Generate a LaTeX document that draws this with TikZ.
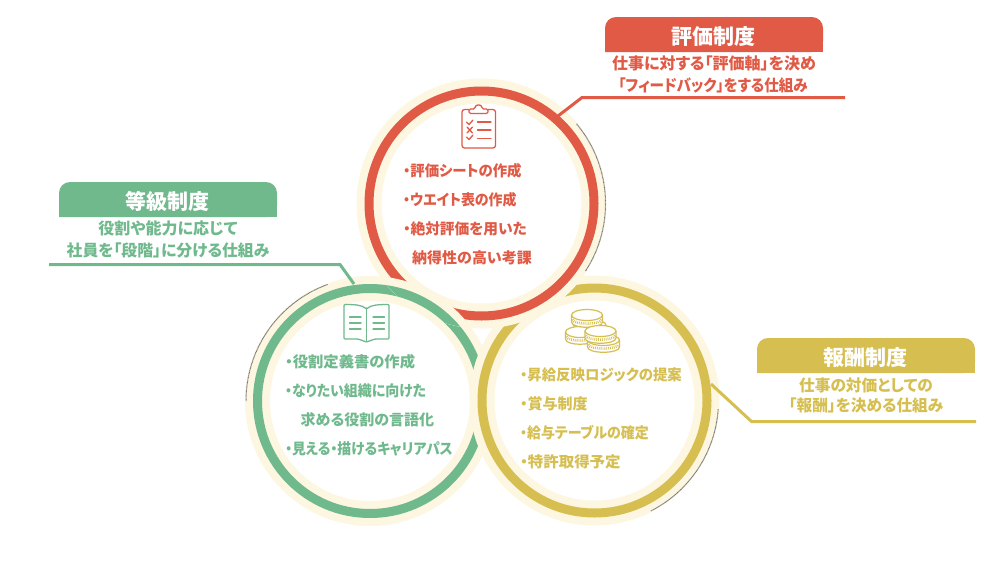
\documentclass[tikz,border=0pt]{standalone}
\usepackage{fontspec}
\usepackage{graphicx}
\setmainfont{Noto Sans CJK JP}[RawFeature={+palt}]
\definecolor{redc}{HTML}{E05A45}
\definecolor{greenc}{HTML}{6FB98D}
\definecolor{yellowc}{HTML}{D6BF50}
\definecolor{creamc}{HTML}{FDF6E1}
\definecolor{greyc}{HTML}{777777}
\newcommand{\disc}[2]{%
  \fill[creamc] (#1) circle[radius=125pt];
  \fill[white] (#1) circle[radius=100pt];
  \draw[#2,line width=9pt] (#1) circle[radius=112.5pt];}
\newcommand{\header}[5]{% left, top, color, name, text
  \fill[#3,rounded corners=11pt] (#1,#2+35) -- (#1,#2) -- (#1+218,#2) -- (#1+218,#2+35) [sharp corners] -- cycle;
  \fill[#3] (#1,#2+15) rectangle (#1+218,#2+35);
  \node[headtext] (#4) at (#1+108.5,#2+19.5) {#5};}
\newcommand{\greyarc}[4]{%
  \draw[greyc,line width=1pt,dash pattern=on .8pt off .5pt] plot[domain=#3:#4,samples=50,smooth] ({#1+124*cos(\x)},{#2-124*sin(\x)});}
\newcommand{\coin}[3]{% x y rx
  \fill[white] (#1-#3,#2) -- (#1-#3,#2+7) .. controls (#1-#3,#2+14) and (#1+#3,#2+14) .. (#1+#3,#2+7) -- (#1+#3,#2) -- cycle;
  \fill[white] (#1,#2) circle[x radius=#3pt,y radius=5.5pt];
  \draw[yellowc,line width=1.2pt] (#1-#3,#2) -- (#1-#3,#2+7) .. controls (#1-#3,#2+14) and (#1+#3,#2+14) .. (#1+#3,#2+7) -- (#1+#3,#2);
  \draw[yellowc,line width=2.6pt,dash pattern=on .8pt off 1.1pt] (#1-#3+1,#2+4.5) .. controls (#1-#3+2,#2+10) and (#1+#3-2,#2+10) .. (#1+#3-1,#2+4.5);
  \draw[yellowc,line width=1.2pt] (#1,#2) circle[x radius=#3pt,y radius=5.5pt];}
\newcommand{\sx}[2]{\scalebox{#1}[1]{#2}}
\tikzset{
  x=1pt,y=-1pt,
  headtext/.style={text=white,font=\bfseries\fontsize{21}{21}\selectfont,inner sep=0pt},
  desc/.style={font=\bfseries\fontsize{16}{16}\selectfont,inner sep=0pt},
  body/.style={font=\bfseries\fontsize{15}{15}\selectfont,inner sep=0pt,anchor=west},
  leader/.style={line width=3pt,line join=miter},
  icon/.style={line width=1.3pt,line join=round,line cap=round},
}
\begin{document}
\begin{tikzpicture}
\useasboundingbox (0,0) rectangle (1000,568);
\coordinate (R) at (481.5,203.5);
\coordinate (G) at (370,401);
\coordinate (Y) at (594.5,400.5);
% cyclic overlap: yellow over green, red over yellow, green over red
\disc{G}{greenc}
\disc{Y}{yellowc}
\disc{R}{redc}
\begin{scope}
  \clip (R) circle[radius=125pt];
  \disc{G}{greenc}
\end{scope}
\greyarc{481.5}{203.5}{40}{-33}
\greyarc{370}{401}{110}{180}
\greyarc{594.5}{400.5}{-4}{-63}
% headers
\header{605}{17}{redc}{hr}{評価制度}
\header{59}{182}{greenc}{hg}{等級制度}
\header{757}{338}{yellowc}{hy}{報酬制度}
% descriptions
\node[desc,text=redc] (dr1) at (714,63) {仕事に対する「評価軸」を決め};
\node[desc,text=redc] (dr2) at (713,85) {\sx{.91}{「フィードバック」をする仕組み}};
\node[desc,text=greenc] (dg1) at (168,228) {役割や能力に応じて};
\node[desc,text=greenc] (dg2) at (168,250) {\sx{.99}{社員を「段階」に分ける仕組み}};
\node[desc,text=yellowc] (dy1) at (866,385) {\sx{.98}{仕事の対価としての}};
\node[desc,text=yellowc] (dy2) at (866,405) {\sx{.98}{「報酬」を決める仕組み}};
% leaders
\coordinate (lr0) at (558,116);
\coordinate (lr1) at (582,97.5);
\coordinate (lr2) at (845,97.5);
\draw[leader,redc] (lr0) -- (lr1) -- (lr2);
\coordinate (lg0) at (354,284);
\coordinate (lg1) at (340,264.5);
\coordinate (lg2) at (49,264.5);
\draw[leader,greenc] (lg0) -- (lg1) -- (lg2);
\coordinate (ly0) at (711,384);
\coordinate (ly1) at (751.5,421.5);
\coordinate (ly2) at (976,421.5);
\draw[leader,yellowc] (ly0) -- (ly1) -- (ly2);
% clipboard icon
\begin{scope}[icon,redc]
  \draw[rounded corners=2.5pt] (469,109.5) -- (462,109.5) -- (462,148) -- (495.5,148) -- (495.5,109.5) -- (488,109.5);
  \draw[rounded corners=1.5pt,fill=white] (469,113.5) -- (469,109) -- (475,109) .. controls (475,104) and (482,104) .. (482,109) -- (488,109) -- (488,113.5) -- cycle;
  \draw (466.5,122) -- (469,124.5) -- (473,120);
  \draw (467,127) -- (472.5,133) (472.5,127) -- (467,133);
  \draw (466.5,137) -- (469,139.5) -- (473,135);
  \draw (477.5,122) -- (491,122) (477.5,130) -- (491,130) (477.5,138.5) -- (491,138.5);
\end{scope}
% book icon
\begin{scope}[icon,greenc]
  \draw[rounded corners=1pt] (366.5,309) .. controls (362,305) and (355,304.5) .. (344,304.5) -- (344,339) -- (358,339) -- (366.5,342) -- (375,339) -- (389,339) -- (389,304.5) .. controls (378,304.5) and (371,305) .. (366.5,309) -- cycle;
  \draw (366.5,309) -- (366.5,341);
  \draw (349.5,317) -- (361,317) (349.5,323) -- (361,323) (349.5,329) -- (361,329);
  \draw (373,317) -- (384.5,317) (373,323) -- (384.5,323) (373,329) -- (384.5,329);
\end{scope}
% coins icon
\coin{590}{325}{16}
\coin{580}{332}{14.5}
\coin{587}{315}{15.5}
\coin{603.5}{340}{16}
\coin{600.5}{331}{15.5}
% body texts
\node[body,text=redc] (r1) at (403,171) {\sx{.96}{・評価シートの作成}};
\node[body,text=redc] (r2) at (403,200) {\sx{.93}{・ウエイト表の作成}};
\node[body,text=redc] (r3) at (403,229) {\sx{.98}{・絶対評価を用いた}};
\node[body,text=redc] (r4) at (412,258) {納得性の高い考課};
\node[body,text=greenc] (g1) at (285,362) {\sx{1.02}{・役割定義書の作成}};
\node[body,text=greenc] (g2) at (285,391) {\sx{.93}{・なりたい組織に向けた}};
\node[body,text=greenc] (g3) at (300.5,420) {求める役割の言語化};
\node[body,text=greenc] (g4) at (285,449) {\sx{.92}{・見える・描けるキャリアパス}};
\node[body,text=yellowc] (y1) at (520,375) {\sx{.96}{・昇給反映ロジックの提案}};
\node[body,text=yellowc] (y2) at (520,404) {・賞与制度};
\node[body,text=yellowc] (y3) at (520,433) {\sx{.93}{・給与テーブルの確定}};
\node[body,text=yellowc] (y4) at (520,462) {\sx{1.03}{・特許取得予定}};
\end{tikzpicture}
\end{document}
